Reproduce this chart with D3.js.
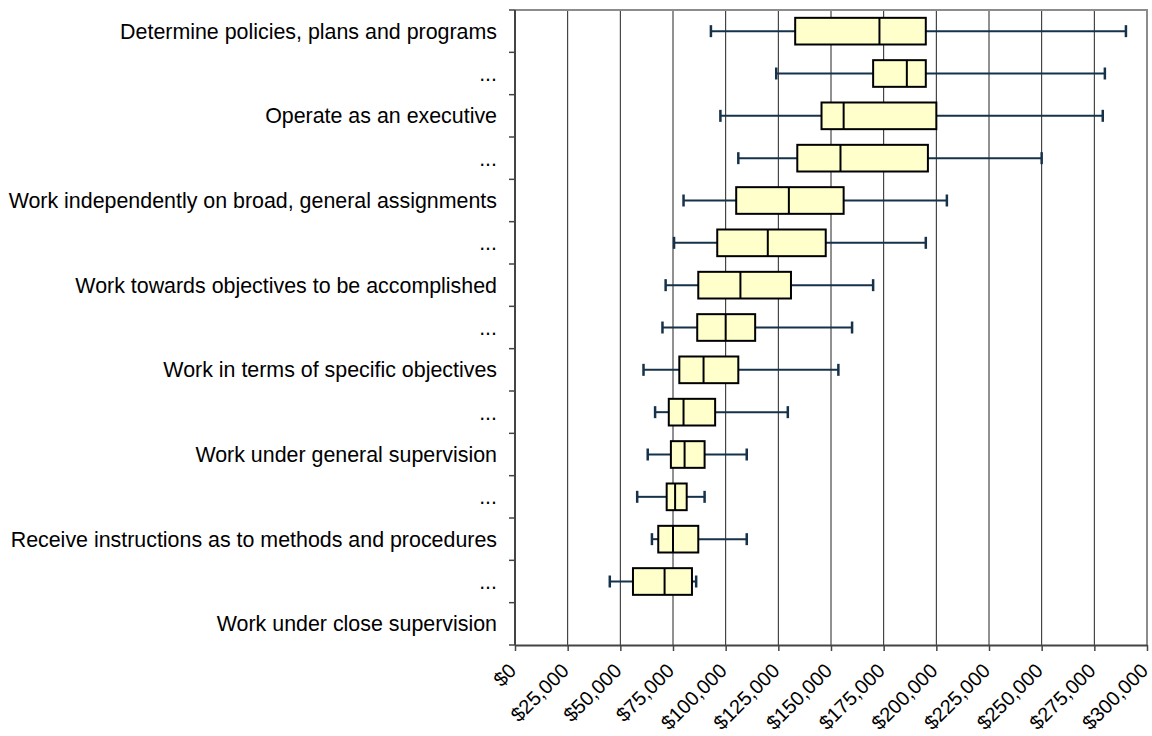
<!DOCTYPE html>
<html>
<head>
<meta charset="utf-8">
<script src="https://cdn.jsdelivr.net/npm/d3@7"></script>
<style>
  html, body { margin: 0; padding: 0; background: #fff; }
  svg { display: block; font-family: Arial, "Liberation Sans", sans-serif; }
</style>
</head>
<body>
<svg id="chart" width="1152" height="736"></svg>
<script>
const categories = [
  "Determine policies, plans and programs",
  "...",
  "Operate as an executive",
  "...",
  "Work independently on broad, general assignments",
  "...",
  "Work towards objectives to be accomplished",
  "...",
  "Work in terms of specific objectives",
  "...",
  "Work under general supervision",
  "...",
  "Receive instructions as to methods and procedures",
  "...",
  "Work under close supervision"
];
const minValues    = [93000, 124000, 97500, 106000, 80000, 75500, 71500, 70000, 61000, 66500, 63000, 58000, 65000, 45000, null];
const q1Values     = [133000, 170000, 145500, 134000, 105000, 96000, 87000, 86500, 78000, 73000, 74000, 72000, 68000, 56000, null];
const medianValues = [173000, 186000, 156000, 154500, 130000, 120000, 107000, 100000, 89500, 80000, 80500, 76000, 75000, 71000, null];
const q3Values     = [195000, 195000, 200000, 196000, 156000, 147500, 131000, 114000, 106000, 95000, 90000, 81500, 87000, 84000, null];
const maxValues    = [290000, 280000, 279000, 250000, 205000, 195000, 170000, 160000, 153500, 129500, 110000, 90000, 110000, 86000, null];
const xTickValues  = [0, 25000, 50000, 75000, 100000, 125000, 150000, 175000, 200000, 225000, 250000, 275000, 300000];

(function () {
const rows = categories.map((c, i) => ({
  cat: i, label: c, min: minValues[i], q1: q1Values[i], med: medianValues[i], q3: q3Values[i], max: maxValues[i]
}));

const pLeft = 515, pRight = 1147, pTop = 10, pBottom = 645;
const svg = d3.select("#chart");

const x = d3.scaleLinear().domain([0, 300000]).range([pLeft, pRight]);
const y = d3.scaleBand().domain(d3.range(categories.length)).range([pTop, pBottom]).paddingInner(0).paddingOuter(0);

// gridlines
svg.append("g").selectAll("line")
  .data(xTickValues.filter(v => v > 0 && v < 300000))
  .join("line")
  .attr("x1", d => x(d)).attr("x2", d => x(d))
  .attr("y1", pTop).attr("y2", pBottom)
  .attr("stroke", "#222").attr("stroke-width", 1);

// plot border top/right
svg.append("path")
  .attr("d", `M${pLeft},${pTop}H${pRight}V${pBottom}`)
  .attr("fill", "none").attr("stroke", "#8c8c8c").attr("stroke-width", 2);

// x axis
const fmt = v => "$" + d3.format(",")(v);
const xAxis = svg.append("g").attr("transform", `translate(0,${pBottom})`)
  .call(d3.axisBottom(x).tickValues(xTickValues).tickFormat(fmt).tickSize(6).tickSizeOuter(0));
xAxis.select(".domain").attr("stroke", "#444").attr("stroke-width", 2);
xAxis.selectAll(".tick line").attr("stroke", "#444").attr("stroke-width", 1.5);
xAxis.selectAll(".tick text")
  .attr("font-size", "20px").attr("fill", "#000")
  .attr("font-family", "Arial, 'Liberation Sans', sans-serif")
  .attr("text-anchor", "end")
  .attr("y", 0).attr("x", 0)
  .attr("dy", "0.35em")
  .attr("transform", "translate(-3,22) rotate(-45)");

// y axis line and ticks at band boundaries
const yAxisG = svg.append("g");
yAxisG.append("line").attr("x1", pLeft).attr("x2", pLeft).attr("y1", pTop).attr("y2", pBottom)
  .attr("stroke", "#444").attr("stroke-width", 2);
const bounds = d3.range(categories.length + 1).map(i => pTop + i * y.step());
yAxisG.selectAll("line.tk").data(bounds).join("line").attr("class", "tk")
  .attr("x1", pLeft - 6).attr("x2", pLeft).attr("y1", d => d).attr("y2", d => d)
  .attr("stroke", "#444").attr("stroke-width", 1.5);
yAxisG.selectAll("text").data(rows).join("text")
  .attr("x", pLeft - 18)
  .attr("y", d => y(d.cat) + y.bandwidth() / 2)
  .attr("dy", "0.35em")
  .attr("text-anchor", "end")
  .attr("font-size", "21.4px")
  .attr("fill", "#000")
  .text(d => d.label);

// boxplots
const data = rows.filter(d => d.min != null);
const bh = y.bandwidth() * 0.63;
const capH = 12;
const whiskerColor = "#16324a";
const g = svg.append("g");
const item = g.selectAll("g.box").data(data).join("g").attr("class", "box");
const cy = d => y(d.cat) + y.bandwidth() / 2;

item.append("line").attr("x1", d => x(d.min)).attr("x2", d => x(d.q1))
  .attr("y1", cy).attr("y2", cy).attr("stroke", whiskerColor).attr("stroke-width", 2);
item.append("line").attr("x1", d => x(d.q3)).attr("x2", d => x(d.max))
  .attr("y1", cy).attr("y2", cy).attr("stroke", whiskerColor).attr("stroke-width", 2);
item.append("line").attr("x1", d => x(d.min)).attr("x2", d => x(d.min))
  .attr("y1", d => cy(d) - capH / 2).attr("y2", d => cy(d) + capH / 2)
  .attr("stroke", whiskerColor).attr("stroke-width", 2.5);
item.append("line").attr("x1", d => x(d.max)).attr("x2", d => x(d.max))
  .attr("y1", d => cy(d) - capH / 2).attr("y2", d => cy(d) + capH / 2)
  .attr("stroke", whiskerColor).attr("stroke-width", 2.5);
item.append("rect")
  .attr("x", d => x(d.q1)).attr("width", d => x(d.q3) - x(d.q1))
  .attr("y", d => cy(d) - bh / 2).attr("height", bh)
  .attr("fill", "#ffffcc").attr("stroke", "#000").attr("stroke-width", 2);
item.append("line").attr("x1", d => x(d.med)).attr("x2", d => x(d.med))
  .attr("y1", d => cy(d) - bh / 2).attr("y2", d => cy(d) + bh / 2)
  .attr("stroke", "#000").attr("stroke-width", 2);
})();
</script>
</body>
</html>
